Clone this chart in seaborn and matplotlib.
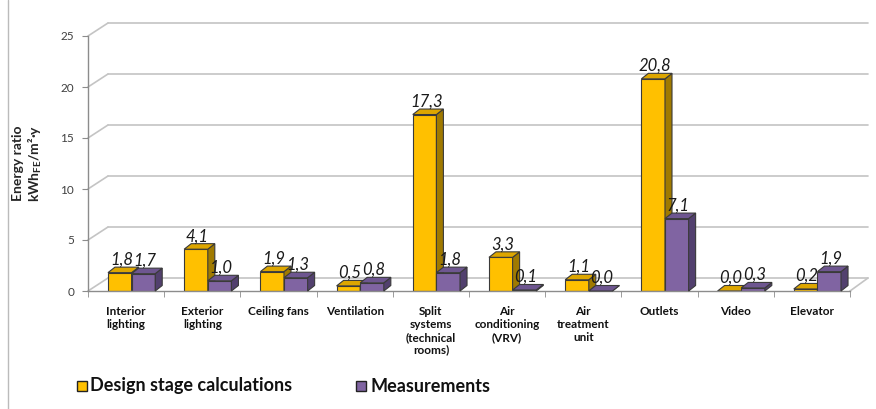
import numpy as np
import pandas as pd
import matplotlib
matplotlib.use("Agg")
import matplotlib.pyplot as plt
from matplotlib.patches import Polygon, Rectangle
from matplotlib.lines import Line2D
import seaborn as sns

categories = ["Interior\nlighting", "Exterior\nlighting", "Ceiling fans", "Ventilation",
              "Split\nsystems\n(technical\nrooms)", "Air\nconditioning\n(VRV)",
              "Air\ntreatment\nunit", "Outlets", "Video", "Elevator"]
design = [1.8, 4.1, 1.9, 0.5, 17.3, 3.3, 1.1, 20.8, 0.0, 0.2]
measured = [1.7, 1.0, 1.3, 0.8, 1.8, 0.1, 0.0, 7.1, 0.3, 1.9]
series_names = ["Design stage calculations", "Measurements"]
yticks = [0, 5, 10, 15, 20, 25]

front_cols = ["#FFC000", "#8064A2"]
top_cols = ["#DDA600", "#6E5690"]
side_cols = ["#A07A00", "#52406E"]
edge = "#3A3A3A"
grid_col = "#C4C4C4"

sns.set_style("white")
plt.rcParams["font.family"] = ["Lato", "DejaVu Sans"]
plt.rcParams["mathtext.fontset"] = "custom"
plt.rcParams["mathtext.rm"] = "Lato"
plt.rcParams["mathtext.bf"] = "Lato:bold"

W, H = 876, 409
fig = plt.figure(figsize=(W / 100, H / 100), dpi=100)
ax = fig.add_axes([88 / W, 118 / H, 762 / W, 255 / H])

df = pd.DataFrame({
    "cat": categories * 2,
    "val": design + measured,
    "series": [series_names[0]] * len(categories) + [series_names[1]] * len(categories),
})
sns.barplot(data=df, x="cat", y="val", hue="series", order=categories,
            hue_order=series_names, palette=front_cols, width=0.62, dodge=True,
            saturation=1, edgecolor=edge, linewidth=0.8, legend=False, ax=ax)

ax.set_xlim(-0.5, 9.5)
ax.set_ylim(0, 25)

px_x = 762 / 10.0   # pixels per x unit
px_y = 255 / 25.0   # pixels per y unit
shift = 5.5 / px_x
bdx, bdy = 7.0 / px_x, 5.5 / px_y     # bar depth
wdx, wdy = 20.0 / px_x, 13.0 / px_y   # wall depth
xr = -0.5 + 780 / px_x

# back and side walls gridlines
for v in yticks:
    ax.plot([-0.5, -0.5 + wdx], [v, v + wdy], color=grid_col, lw=1.2,
            clip_on=False, zorder=0.2)
    ax.plot([-0.5 + wdx, xr], [v + wdy, v + wdy], color=grid_col, lw=1.2,
            clip_on=False, zorder=0.2)
ax.plot([9.5, xr], [0, wdy], color=grid_col, lw=1.2, clip_on=False, zorder=0.2)

# pseudo-3D faces of the bars
for si, cont in enumerate(ax.containers):
    base_z = 1.5 + si
    for bar in cont.patches:
        bar.set_x(bar.get_x() + shift)
        bar.set_zorder(base_z)
        x0 = bar.get_x()
        x1 = x0 + bar.get_width()
        h = bar.get_height()
        top = Polygon([(x0, h), (x1, h), (x1 + bdx, h + bdy), (x0 + bdx, h + bdy)],
                      closed=True, facecolor=top_cols[si], edgecolor=edge, lw=0.8,
                      zorder=base_z + 0.1, clip_on=False)
        side = Polygon([(x1, 0), (x1, h), (x1 + bdx, h + bdy), (x1 + bdx, bdy)],
                       closed=True, facecolor=side_cols[si], edgecolor=edge, lw=0.8,
                       zorder=base_z + 0.1, clip_on=False)
        ax.add_patch(side)
        ax.add_patch(top)
        ax.text((x0 + x1) / 2 + 0.02, h + bdy + 2.5 / px_y,
                f"{h:.1f}".replace(".", ","), ha="center", va="baseline",
                fontsize=12, fontstyle="italic", color="#1a1a1a", zorder=5,
                clip_on=False)

for s in ["top", "right"]:
    ax.spines[s].set_visible(False)
ax.spines["left"].set_color("#8C8C8C")
ax.spines["bottom"].set_color("#8C8C8C")
ax.spines["left"].set_linewidth(1.0)
ax.spines["bottom"].set_linewidth(1.0)

ax.set_yticks(yticks)
ax.set_yticklabels([str(v) for v in yticks])
ax.tick_params(axis="y", length=4, color="#8C8C8C", labelsize=8.5,
               labelcolor="#404040", pad=6, left=True)
ax.set_xticks(range(len(categories)))
ax.set_xticklabels(categories, fontsize=8.5, fontweight="bold", linespacing=1.2)
ax.tick_params(axis="x", length=0, pad=11, labelcolor="#111111")
ax.set_xticks(np.arange(-0.5, 10, 1), minor=True)
ax.tick_params(axis="x", which="minor", length=4, color="#8C8C8C", bottom=True)
ax.set_xlabel("")
ax.set_ylabel("")
ax.patch.set_alpha(0)

fig.text(28 / W, 1 - 163 / H, "Energy ratio\nkWh$_{\\mathbf{FE}}$/m²·y", rotation=90,
         ha="center", va="center", fontsize=10, fontweight="bold",
         multialignment="center", linespacing=1.25)

# legend
for (sx, tx), name, col in zip([(77, 90), (356, 371)], series_names, front_cols):
    fig.add_artist(Rectangle((sx / W, 1 - 391 / H), 10 / W, 10 / H,
                             transform=fig.transFigure, facecolor=col,
                             edgecolor="#222222", lw=1.0))
    fig.text(tx / W, 1 - 386 / H, name, ha="left", va="center",
             fontsize=13, fontweight="bold", color="#111111")

fig.add_artist(Line2D([8 / W, 8 / W], [0, 1], transform=fig.transFigure,
                      color="#BBBBBB", lw=1.0))

fig.savefig("out.png", dpi=100)
